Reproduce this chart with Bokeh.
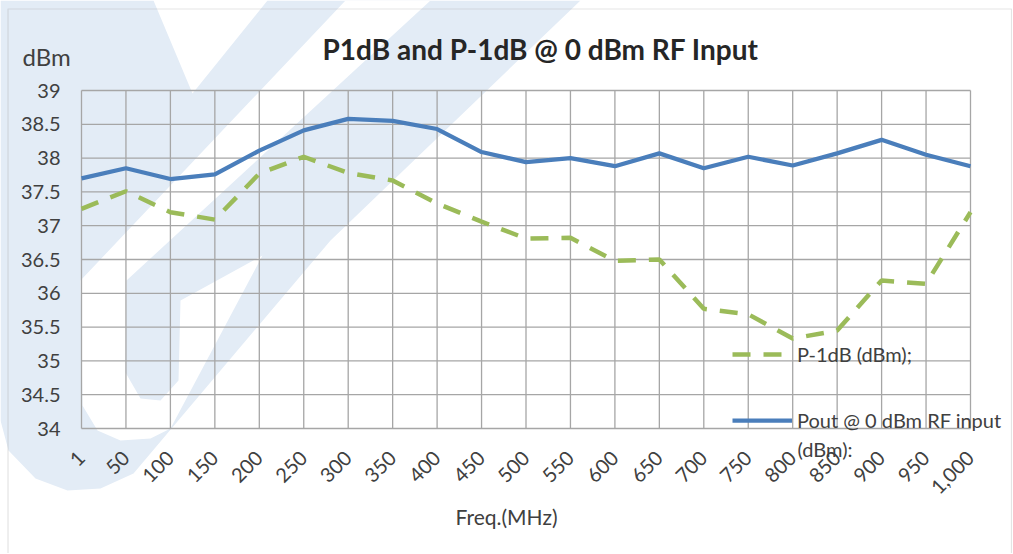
import numpy as np
from bokeh.plotting import figure
from bokeh.models import (Range1d, FixedTicker, Label, Legend, LegendItem,
                          PolyAnnotation)
from bokeh.embed import file_html
from bokeh.resources import INLINE

# ---------------- data ----------------
freq_labels = ["1", "50", "100", "150", "200", "250", "300", "350", "400", "450",
               "500", "550", "600", "650", "700", "750", "800", "850", "900",
               "950", "1,000"]
pout = [37.70, 37.85, 37.69, 37.76, 38.11, 38.41, 38.58, 38.55, 38.43, 38.09,
        37.94, 38.00, 37.88, 38.07, 37.85, 38.02, 37.89, 38.07, 38.27, 38.05,
        37.88]
p_minus_1db = [37.25, 37.51, 37.20, 37.09, 37.77, 38.02, 37.78, 37.67, 37.33,
               37.06, 36.81, 36.82, 36.48, 36.50, 35.77, 35.69, 35.33, 35.45,
               36.19, 36.14, 37.20]
y_ticks = [34, 34.5, 35, 35.5, 36, 36.5, 37, 37.5, 38, 38.5, 39]
y_tick_labels = ["34", "34.5", "35", "35.5", "36", "36.5", "37", "37.5", "38",
                 "38.5", "39"]
series_names = ["P-1dB (dBm);", "Pout @ 0 dBm RF input"]

FONT = "Lato"
TXT = "#404040"
GRID = "#a6a6a6"
W, H = 1012, 553

# plot-area placement inside the canvas (pixels)
AREA_L, AREA_R, AREA_T, AREA_B = 81, 970, 90, 428

x_idx = list(range(len(freq_labels)))
n = len(freq_labels) - 1
ux = (AREA_R - AREA_L) / n
uy = (AREA_B - AREA_T) / (y_ticks[-1] - y_ticks[0])
x_range = Range1d(-AREA_L / ux, n + (W - AREA_R) / ux)
y_range = Range1d(y_ticks[0] - (H - AREA_B) / uy, y_ticks[-1] + AREA_T / uy)

p = figure(width=W, height=H, output_backend="svg", toolbar_location=None,
           x_range=x_range, y_range=y_range, min_border=0)
p.background_fill_color = "white"
p.border_fill_color = "white"
p.outline_line_color = None
p.grid.visible = False

# ------------- watermark (decorative background) -------------
WM = "#e3ecf6"
outer = [(0, 0), (153, 0), (192, 93), (267, 0), (580, 0), (330, 240), (133, 473),
         (100, 488), (67, 490), (35, 478), (8, 450), (0, 420)]
hole = [(345, 0), (430, 0), (126, 280), (125, 372), (140, 398), (160, 400),
        (178, 380), (180, 300), (262, 255), (170, 428), (150, 438), (120, 440),
        (97, 430), (82, 405), (80, 280)]
for poly, col in ((outer, WM), (hole, "white")):
    p.add_layout(PolyAnnotation(xs=[a for a, b in poly], ys=[b for a, b in poly],
                                xs_units="canvas", ys_units="canvas",
                                fill_color=col, fill_alpha=1.0, line_color=None,
                                level="image"))

# outer chart border
p.add_layout(PolyAnnotation(xs=[7.5, 1011, 1011, 7.5], ys=[8.5, 8.5, 600, 600],
                            xs_units="canvas", ys_units="canvas", fill_alpha=0,
                            line_color="#a6a6a6", line_width=1.2, level="overlay"))

# ------------- axes -------------
p.xaxis.ticker = FixedTicker(ticks=x_idx)
p.xaxis.major_label_overrides = {i: lab for i, lab in enumerate(freq_labels)}
p.xaxis.major_label_orientation = np.pi / 4
p.xaxis.fixed_location = y_ticks[0]
p.yaxis.ticker = FixedTicker(ticks=y_ticks)
p.yaxis.major_label_overrides = {t: lab for t, lab in zip(y_ticks, y_tick_labels)}
p.yaxis.fixed_location = 0
for ax in (p.xaxis[0], p.yaxis[0]):
    ax.axis_line_color = None
    ax.major_tick_line_color = None
    ax.minor_tick_line_color = None
    ax.major_label_text_font = FONT
    ax.major_label_text_color = TXT
    ax.major_label_text_font_size = "20px"
p.yaxis.major_label_standoff = 15
p.xaxis.major_label_standoff = 20
p.xaxis.axis_label = "Freq.(MHz)"
p.xaxis.axis_label_text_font = FONT
p.xaxis.axis_label_text_font_style = "normal"
p.xaxis.axis_label_text_font_size = "21px"
p.xaxis.axis_label_text_color = TXT
p.xaxis.axis_label_standoff = 1

# ------------- grid (built from the tick arrays) -------------
p.segment(x0=x_idx, y0=[y_ticks[0]] * len(x_idx), x1=x_idx, y1=[y_ticks[-1]] * len(x_idx),
          line_color=GRID, line_width=1.3)
p.segment(x0=[0] * len(y_ticks), y0=y_ticks, x1=[n] * len(y_ticks), y1=y_ticks,
          line_color=GRID, line_width=1.3)

# ------------- series -------------
r_minus = p.line(x_idx, p_minus_1db, line_color="#9bbb59", line_width=4.5,
                 line_dash="18 13")
r_pout = p.line(x_idx, pout, line_color="#4a7ebb", line_width=4.25)

legend = Legend(items=[LegendItem(label=series_names[0], renderers=[r_minus]),
                       LegendItem(label=series_names[1], renderers=[r_pout])],
                location=(732, 120), orientation="vertical",
                glyph_width=60, glyph_height=26, label_height=26,
                label_standoff=5, spacing=40, padding=0, margin=0,
                border_line_color=None, background_fill_alpha=0,
                label_text_font=FONT, label_text_font_size="20px",
                label_text_color=TXT)
p.add_layout(legend)

# ------------- texts -------------
p.add_layout(Label(x=540, y=48, x_units="canvas", y_units="canvas",
                   text="P1dB and P-1dB @ 0 dBm RF Input", text_font=FONT,
                   text_font_style="bold", text_font_size="28px",
                   text_color="#262626", text_align="center", text_baseline="middle"))
p.add_layout(Label(x=22, y=56, x_units="canvas", y_units="canvas",
                   text="dBm", text_font=FONT, text_font_size="24px",
                   text_color=TXT, text_align="left", text_baseline="middle"))
p.add_layout(Label(x=797, y=448, x_units="canvas", y_units="canvas",
                   text="(dBm):", text_font=FONT, text_font_size="20px",
                   text_color=TXT, text_align="left", text_baseline="middle"))

open("out.html", "w").write(file_html(p, INLINE))
